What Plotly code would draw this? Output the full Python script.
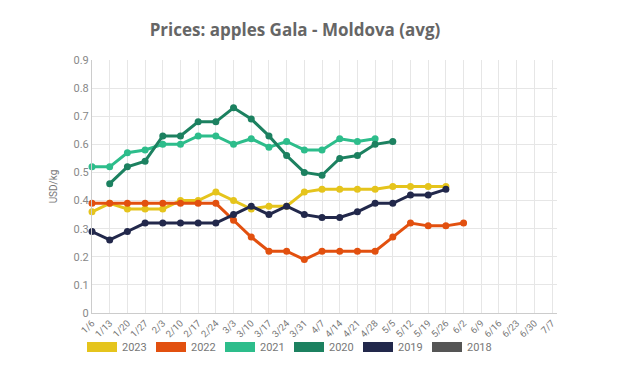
import plotly.graph_objects as go

dates = ["1/6", "1/13", "1/20", "1/27", "2/3", "2/10", "2/17", "2/24", "3/3", "3/10",
         "3/17", "3/24", "3/31", "4/7", "4/14", "4/21", "4/28", "5/5", "5/12", "5/19",
         "5/26", "6/2", "6/9", "6/16", "6/23", "6/30", "7/7"]

y2023 = [0.36, 0.39, 0.37, 0.37, 0.37, 0.40, 0.40, 0.43, 0.40, 0.37,
         0.38, 0.38, 0.43, 0.44, 0.44, 0.44, 0.44, 0.45, 0.45, 0.45, 0.45]
y2022 = [0.39, 0.39, 0.39, 0.39, 0.39, 0.39, 0.39, 0.39, 0.33, 0.27,
         0.22, 0.22, 0.19, 0.22, 0.22, 0.22, 0.22, 0.27, 0.32, 0.31, 0.31, 0.32]
y2021 = [0.52, 0.52, 0.57, 0.58, 0.60, 0.60, 0.63, 0.63, 0.60, 0.62,
         0.59, 0.61, 0.58, 0.58, 0.62, 0.61, 0.62]
y2020 = [None, 0.46, 0.52, 0.54, 0.63, 0.63, 0.68, 0.68, 0.73, 0.69,
         0.63, 0.56, 0.50, 0.49, 0.55, 0.56, 0.60, 0.61]
y2019 = [0.29, 0.26, 0.29, 0.32, 0.32, 0.32, 0.32, 0.32, 0.35, 0.38,
         0.35, 0.38, 0.35, 0.34, 0.34, 0.36, 0.39, 0.39, 0.42, 0.42, 0.44]
y2018 = []

series = [
    ("2023", y2023, "#E5C41C"),
    ("2022", y2022, "#E2500F"),
    ("2021", y2021, "#2DBD8B"),
    ("2020", y2020, "#1C8160"),
    ("2019", y2019, "#22284B"),
    ("2018", y2018, "#555555"),
]

fig = go.Figure()
for name, vals, col in series:
    if vals:
        fig.add_trace(go.Scatter(
            x=dates[:len(vals)], y=vals, name=name, mode="lines+markers",
            line=dict(color=col, width=3), marker=dict(color=col, size=7),
            cliponaxis=False, showlegend=False, legendgroup=name))
for name, vals, col in series:
    fig.add_trace(go.Scatter(
        x=[None], y=[None], name=name, mode="lines",
        line=dict(color=col, width=10), showlegend=True, legendgroup=name))

W, H = 618, 383
grid = "#E6E6E6"
fig.update_layout(
    width=W, height=H,
    margin=dict(l=84, r=69, t=52, b=78),
    paper_bgcolor="white", plot_bgcolor="white",
    font=dict(family="Roboto, sans-serif", color="#777777", size=11),
    title=dict(text="<b>Prices: apples Gala - Moldova (avg)</b>",
               x=287 / W, xref="container", xanchor="center",
               y=1 - 22 / H, yref="container", yanchor="middle",
               font=dict(family="Open Sans, sans-serif", size=17, color="#666666")),
    xaxis=dict(type="category", categoryorder="array", categoryarray=dates,
               tickmode="array", tickvals=dates, ticktext=dates,
               range=[0, 26.28], tickangle=-45, tickfont=dict(size=9.5, color="#777777"),
               showgrid=True, gridcolor=grid, gridwidth=1,
               showline=True, linecolor="#CCCCCC", linewidth=1,
               ticks="", automargin=False, zeroline=False),
    yaxis=dict(range=[0, 0.9], dtick=0.1, tickformat="~g",
               tickfont=dict(size=11, color="#888888"),
               showgrid=True, gridcolor=grid, gridwidth=1,
               showline=True, linecolor="#CCCCCC", linewidth=1,
               ticks="", automargin=False, zeroline=False,
               title=dict(text="USD/kg", font=dict(size=10, color="#777777"), standoff=14)),
    legend=dict(orientation="h", x=74 / W, xanchor="left", xref="container",
                y=44 / H, yref="container", yanchor="middle",
                bgcolor="rgba(0,0,0,0)",
                font=dict(size=11, color="#777777"),
                entrywidth=24, entrywidthmode="pixels",
                itemclick=False, itemdoubleclick=False),
)

fig.write_html("out.html")
